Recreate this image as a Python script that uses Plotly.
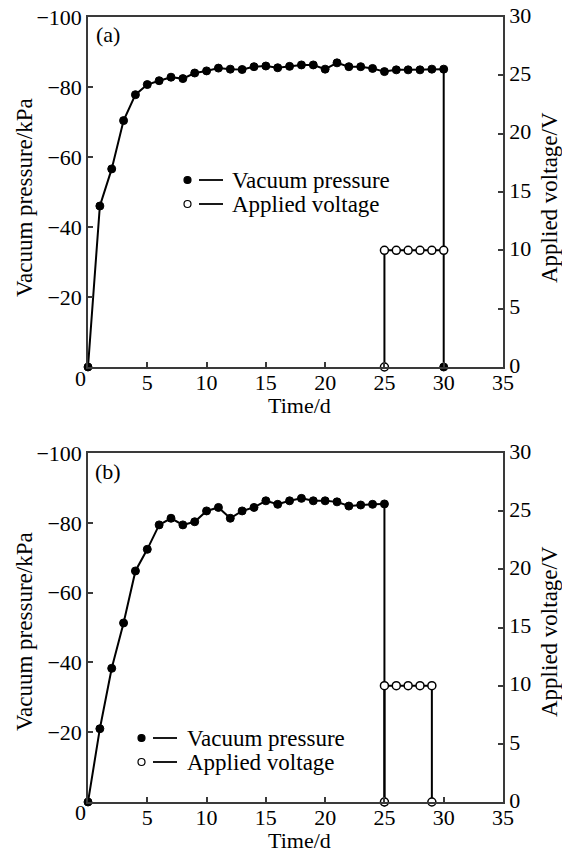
import plotly.graph_objects as go

# ---- data -------------------------------------------------------------
days_a = list(range(0, 31))
pressure_a = [0, -46, -56.6, -70.4, -77.8, -80.7, -81.8, -82.8, -82.4, -84.0,
              -84.6, -85.4, -85.1, -85.0, -85.8, -86.0, -85.5, -85.9, -86.3, -86.3,
              -85.1, -86.9, -85.8, -85.8, -85.3, -84.4, -84.9, -84.9, -84.9, -85.1,
              -85.1]
# pressure released at day 30
drop_a_days = [30, 30]
drop_a_vals = [-85.1, 0]

volt_a_days = [25, 25, 26, 27, 28, 29, 30]
volt_a_vals = [0, 10, 10, 10, 10, 10, 10]

days_b = list(range(0, 26))
pressure_b = [0, -21.0, -38.3, -51.3, -66.2, -72.4, -79.4, -81.3, -79.4, -80.3,
              -83.4, -84.4, -81.3, -83.4, -84.4, -86.3, -85.3, -86.3, -87.0, -86.3,
              -86.3, -86.0, -84.8, -85.1, -85.3, -85.4]
drop_b_days = [25, 25]
drop_b_vals = [-85.4, 0]

volt_b_days = [25, 25, 26, 27, 28, 29, 29]
volt_b_vals = [0, 10, 10, 10, 10, 10, 0]

x_ticks = [5, 10, 15, 20, 25, 30, 35]
p_ticks = [-100, -80, -60, -40, -20]
v_ticks = [0, 5, 10, 15, 20, 25, 30]

# ---- style ------------------------------------------------------------
W, H = 562, 854
FONT = "Liberation Serif, Times New Roman, serif"
AX = "#3a3a3a"
LINE = dict(color="black", width=2)
FILLED = dict(symbol="circle", size=8, color="black", line=dict(color="black", width=1))
OPEN = dict(symbol="circle", size=8, color="white", line=dict(color="black", width=1.5))


def px(x):
    return x / W


def py(y):
    return 1 - y / H


fig = go.Figure()

# panel (a)
fig.add_trace(go.Scatter(x=drop_a_days, y=drop_a_vals, mode="lines", line=LINE,
                         xaxis="x", yaxis="y", cliponaxis=False, showlegend=False))
fig.add_trace(go.Scatter(x=volt_a_days, y=volt_a_vals, mode="lines+markers", line=LINE,
                         marker=OPEN, xaxis="x", yaxis="y2", cliponaxis=False, showlegend=False))
fig.add_trace(go.Scatter(x=days_a, y=pressure_a, mode="lines+markers", line=LINE,
                         marker=FILLED, xaxis="x", yaxis="y", cliponaxis=False, showlegend=False))
fig.add_trace(go.Scatter(x=[drop_a_days[-1]], y=[drop_a_vals[-1]], mode="markers",
                         marker=FILLED, xaxis="x", yaxis="y", cliponaxis=False, showlegend=False))

# panel (b)
fig.add_trace(go.Scatter(x=drop_b_days, y=drop_b_vals, mode="lines", line=LINE,
                         xaxis="x2", yaxis="y3", cliponaxis=False, showlegend=False))
fig.add_trace(go.Scatter(x=volt_b_days, y=volt_b_vals, mode="lines+markers", line=LINE,
                         marker=OPEN, xaxis="x2", yaxis="y4", cliponaxis=False, showlegend=False))
fig.add_trace(go.Scatter(x=days_b, y=pressure_b, mode="lines+markers", line=LINE,
                         marker=FILLED, xaxis="x2", yaxis="y3", cliponaxis=False, showlegend=False))
fig.add_trace(go.Scatter(x=[drop_b_days[-1]], y=[drop_b_vals[-1]], mode="markers",
                         marker=FILLED, xaxis="x2", yaxis="y3", cliponaxis=False, showlegend=False))

tickfont = dict(family=FONT, size=22, color="black")
common = dict(showgrid=False, zeroline=False, showline=True, linecolor=AX, linewidth=1.5,
              ticks="inside", ticklen=5, tickwidth=1.5, tickcolor=AX, tickfont=tickfont,
              automargin=False)

dom_x = [px(88), px(503)]
dom_a = [py(367), py(17)]
dom_b = [py(802), py(453)]

fig.update_layout(
    width=W, height=H,
    margin=dict(l=0, r=0, t=0, b=0),
    paper_bgcolor="white", plot_bgcolor="white",
    font=dict(family=FONT, color="black"),
    xaxis=dict(domain=dom_x, anchor="y", range=[0, 35], tickvals=x_ticks,
               mirror=True, ticklabelstandoff=-5, **common),
    yaxis=dict(domain=dom_a, anchor="x", range=[0, -100], tickvals=p_ticks, **common),
    yaxis2=dict(domain=dom_a, anchor="x", overlaying="y", side="right", range=[0, 30],
                tickvals=v_ticks, ticklabelshift=-2, **common),
    xaxis2=dict(domain=dom_x, anchor="y3", range=[0, 35], tickvals=x_ticks,
                mirror=True, ticklabelstandoff=-5, **common),
    yaxis3=dict(domain=dom_b, anchor="x2", range=[0, -100], tickvals=p_ticks, **common),
    yaxis4=dict(domain=dom_b, anchor="x2", overlaying="y3", side="right", range=[0, 30],
                tickvals=v_ticks, ticklabelshift=-2, **common),
)

ann = []


def text(x, y, s, size=23, angle=0, xanchor="center"):
    ann.append(dict(x=px(x), y=py(y), xref="paper", yref="paper", text=s, showarrow=False,
                    textangle=angle, xanchor=xanchor, yanchor="middle",
                    font=dict(family=FONT, size=size, color="black")))


shapes = []


def legend(x_dot, x_l0, x_l1, x_txt, y1, y2):
    for yy, fill, label in [(y1, "black", "Vacuum pressure"), (y2, "white", "Applied voltage")]:
        shapes.append(dict(type="circle", xref="paper", yref="paper",
                           xsizemode="pixel", ysizemode="pixel",
                           xanchor=px(x_dot), yanchor=py(yy),
                           x0=-3.5, x1=3.5, y0=-3.5, y1=3.5,
                           fillcolor=fill, line=dict(color="black", width=1.2)))
        shapes.append(dict(type="line", xref="paper", yref="paper",
                           x0=px(x_l0), x1=px(x_l1), y0=py(yy), y1=py(yy),
                           line=dict(color="black", width=1.8)))
        text(x_txt, yy, label, size=23, xanchor="left")


# panel (a) texts
text(108, 34, "(a)", size=22)
text(80, 378, "0", size=22)
text(300, 405, "Time/d", size=22)
text(24, 198, "Vacuum pressure/kPa", size=23, angle=-90)
text(549, 198, "Applied voltage/V", size=23, angle=-90)
legend(187.5, 199, 223, 230, 180, 204)

# panel (b) texts
text(108, 472, "(b)", size=22)
text(80, 812, "0", size=22)
text(300, 840, "Time/d", size=22)
text(24, 632, "Vacuum pressure/kPa", size=23, angle=-90)
text(549, 632, "Applied voltage/V", size=23, angle=-90)
legend(141.5, 153, 177, 184.5, 738, 762)

fig.update_layout(annotations=ann, shapes=shapes)

fig.write_html("out.html")
